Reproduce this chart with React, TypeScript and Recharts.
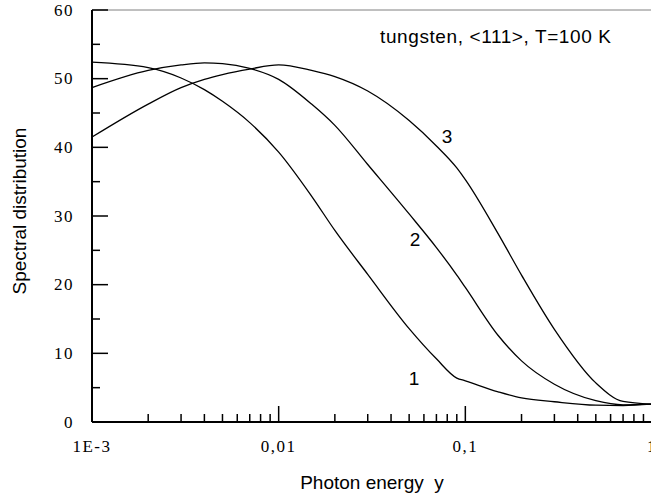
import { LineChart, Line, XAxis, YAxis, ReferenceLine } from 'recharts'

// photon energy y (log axis) and the three spectral curves
const energy = [0.001, 0.002, 0.003, 0.004, 0.005, 0.007, 0.01, 0.015, 0.02, 0.03, 0.05, 0.07, 0.09, 0.1, 0.15, 0.2, 0.3, 0.5, 0.7, 1]
const curve1 = [52.4, 51.6, 50.1, 48.4, 46.7, 43.6, 39.3, 32.9, 27.9, 21.5, 13.6, 9.2, 6.4, 6.0, 4.4, 3.5, 2.95, 2.45, 2.4, 2.6]
const curve2 = [48.7, 51.2, 52.0, 52.3, 52.2, 51.5, 49.9, 46.3, 43.2, 37.5, 30.3, 25.4, 21.4, 19.6, 12.6, 8.9, 5.5, 3.1, 2.5, 2.6]
const curve3 = [41.5, 46.3, 48.7, 49.9, 50.6, 51.4, 52.0, 51.2, 50.3, 48.2, 43.9, 40.2, 37.0, 35.3, 27.4, 21.4, 13.5, 5.7, 3.0, 2.6]

const xTicks = [
  0.001, 0.002, 0.003, 0.004, 0.005, 0.006, 0.007, 0.008, 0.009,
  0.01, 0.02, 0.03, 0.04, 0.05, 0.06, 0.07, 0.08, 0.09,
  0.1, 0.2, 0.3, 0.4, 0.5, 0.6, 0.7, 0.8, 0.9, 1,
]
const xMajor = [0.001, 0.01, 0.1, 1]
const xLabels = ['1E-3', '0,01', '0,1', '1']
const yTicks = [0, 5, 10, 15, 20, 25, 30, 35, 40, 45, 50, 55, 60]

const data = energy.map((x, i) => ({ x, c1: curve1[i], c2: curve2[i], c3: curve3[i] }))

const serif = '"Liberation Serif", "Times New Roman", serif'
const sans = '"Liberation Sans", Arial, sans-serif'

function XTick(props: any) {
  const { x, y, payload } = props
  const i = xMajor.indexOf(payload.value)
  const len = i >= 0 ? 16 : 8
  return (
    <g>
      {payload.value !== 0.001 && (
        <line x1={x} x2={x} y1={y} y2={y - len} stroke="#000" strokeWidth={1.5} />
      )}
      {i >= 0 && (
        <text x={x} y={y + 30} textAnchor="middle" fontFamily={serif} fontSize={17} letterSpacing={1.5} fill="#000">
          {xLabels[i]}
        </text>
      )}
    </g>
  )
}

function YTick(props: any) {
  const { x, y, payload } = props
  const major = payload.value % 10 === 0
  return (
    <g>
      <line x1={x} x2={x + (major ? 16 : 8)} y1={y} y2={y} stroke="#000" strokeWidth={1.5} />
      {major && (
        <text x={x - 18} y={y + 5.5} textAnchor="end" fontFamily={serif} fontSize={17} letterSpacing={1.5} fill="#000">
          {payload.value}
        </text>
      )}
    </g>
  )
}

export default function App() {
  return (
    <div style={{ position: 'absolute', left: 0, top: 0, width: 651, height: 499, overflow: 'hidden', background: '#fff' }}>
      <LineChart width={652} height={499} data={data} margin={{ top: 10, right: 0, bottom: 0, left: 0 }}>
        <XAxis
          dataKey="x"
          type="number"
          scale="log"
          domain={[0.001, 1]}
          ticks={xTicks}
          interval={0}
          height={77}
          tickSize={0}
          tickMargin={0}
          tickLine={false}
          axisLine={{ stroke: '#000', strokeWidth: 2 }}
          tick={<XTick />}
        />
        <YAxis
          type="number"
          domain={[0, 60]}
          ticks={yTicks}
          interval={0}
          width={92}
          tickSize={0}
          tickMargin={0}
          tickLine={false}
          axisLine={{ stroke: '#000', strokeWidth: 2 }}
          tick={<YTick />}
        />
        <ReferenceLine y={60} stroke="#808080" strokeWidth={1} />
        <Line type="monotone" dataKey="c1" stroke="#000" strokeWidth={1.3} dot={false} isAnimationActive={false} />
        <Line type="monotone" dataKey="c2" stroke="#000" strokeWidth={1.3} dot={false} isAnimationActive={false} />
        <Line type="monotone" dataKey="c3" stroke="#000" strokeWidth={1.3} dot={false} isAnimationActive={false} />
      </LineChart>
      <svg width={651} height={499} style={{ position: 'absolute', left: 0, top: 0, pointerEvents: 'none' }}>
        <text x={26} y={211} transform="rotate(-90 26 211)" textAnchor="middle" fontFamily={sans} fontSize={19} fill="#000">
          Spectral distribution
        </text>
        <text x={372} y={489} textAnchor="middle" fontFamily={sans} fontSize={19} fill="#000" style={{ whiteSpace: 'pre' }}>
          {'Photon energy  y'}
        </text>
        <text x={380} y={43} fontFamily={sans} fontSize={19} letterSpacing={0.6} fill="#000">
          tungsten, &lt;111&gt;, T=100 K
        </text>
        <text x={447} y={143} textAnchor="middle" fontFamily={sans} fontSize={19} fill="#000">3</text>
        <text x={415} y={246} textAnchor="middle" fontFamily={sans} fontSize={19} fill="#000">2</text>
        <text x={414} y={385} textAnchor="middle" fontFamily={sans} fontSize={19} fill="#000">1</text>
      </svg>
    </div>
  )
}
